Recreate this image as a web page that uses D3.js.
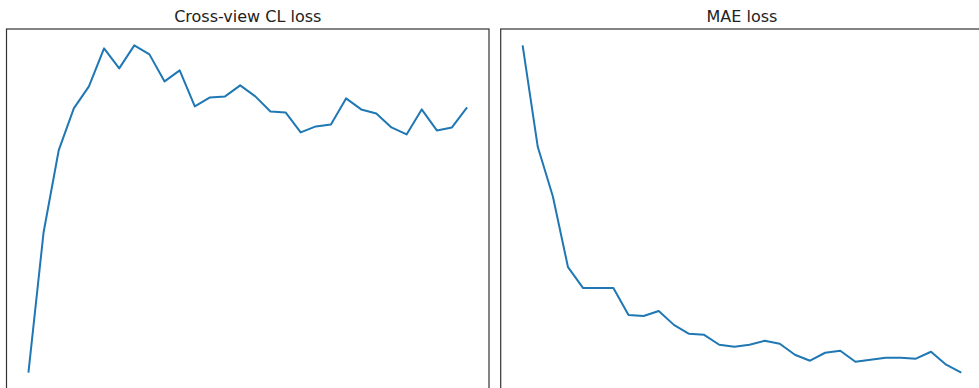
<!DOCTYPE html>
<html>
<head>
<meta charset="utf-8">
<script src="https://cdn.jsdelivr.net/npm/d3@7"></script>
<style>
  body { margin: 0; background: #fff; }
  .title { font-family: "DejaVu Sans", sans-serif; font-size: 16px; fill: #222; }
</style>
</head>
<body>
<div id="graf"></div>
<script>
// training curves, 30 epochs each (no tick labels in the original)
const epochs = d3.range(30)
const clLoss = [0.00, 1.40, 2.22, 2.64, 2.86, 3.24, 3.04, 3.27, 3.18, 2.91,
  3.02, 2.66, 2.75, 2.76, 2.87, 2.76, 2.61, 2.60, 2.40, 2.46,
  2.48, 2.74, 2.63, 2.59, 2.45, 2.38, 2.63, 2.42, 2.45, 2.65]
const maeLoss = [3.55, 2.53, 2.03, 1.32, 1.11, 1.11, 1.11, 0.84, 0.83, 0.88,
  0.74, 0.65, 0.64, 0.54, 0.52, 0.54, 0.58, 0.55, 0.44, 0.38,
  0.46, 0.48, 0.37, 0.39, 0.41, 0.41, 0.40, 0.47, 0.34, 0.26]
const titles = ["Cross-view CL loss", "MAE loss"]

const anchoTotal = 979
const altoTotal = 388

const svg = d3.select("#graf")
  .append("svg")
  .attr("width", anchoTotal)
  .attr("height", altoTotal)

// panel boxes: left edge (the right one runs past the window)
const panels = [
  { left: 6.5, values: clLoss, title: titles[0] },
  { left: 500.7, values: maeLoss, title: titles[1] }
]
const panelW = 482.5
const yTop = 29
const yBottom = 389

// matplotlib-like 5% padding
const pad = (ext) => {
  const m = (ext[1] - ext[0]) * 0.05
  return [ext[0] - m, ext[1] + m]
}

panels.forEach((p) => {
  const g = svg.append("g").attr("transform", `translate(${p.left}, 0)`)

  const x = d3.scaleLinear().domain(pad(d3.extent(epochs))).range([0, panelW])
  const y = d3.scaleLinear().domain(pad(d3.extent(p.values))).range([yBottom, yTop])

  const line = d3.line()
    .x((d, i) => x(epochs[i]))
    .y((d) => y(d))

  g.append("path")
    .datum(p.values)
    .attr("d", line)
    .attr("fill", "none")
    .attr("stroke", "#1f77b4")
    .attr("stroke-width", 2)
    .attr("stroke-linejoin", "round")

  g.append("rect")
    .attr("x", 0)
    .attr("y", yTop)
    .attr("width", panelW)
    .attr("height", yBottom - yTop)
    .attr("fill", "none")
    .attr("stroke", "#333")
    .attr("stroke-width", 1.2)

  g.append("text")
    .attr("class", "title")
    .attr("x", panelW / 2)
    .attr("y", 21.5)
    .attr("text-anchor", "middle")
    .text(p.title)
})
</script>
</body>
</html>
